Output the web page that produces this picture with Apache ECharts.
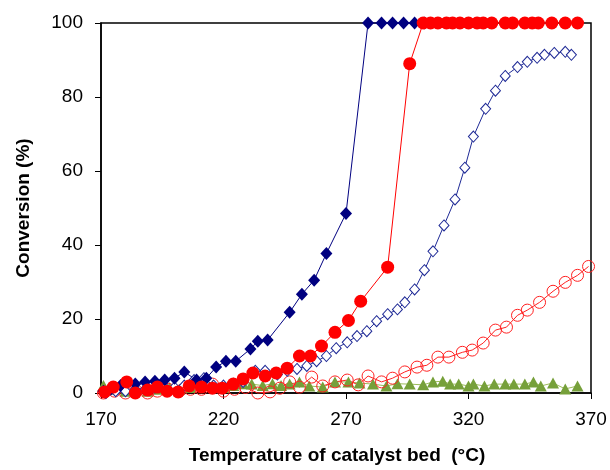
<!DOCTYPE html>
<html>
<head>
<meta charset="utf-8">
<script src="https://cdn.jsdelivr.net/npm/echarts@6/dist/echarts.min.js"></script>
<style>
html, body { margin: 0; padding: 0; background: #fff; }
#main { width: 610px; height: 470px; }
</style>
</head>
<body>
<div id="main"></div>
<script>
// x ticks / y ticks
var xTicks = [170, 220, 270, 320, 370];
var yTicks = [0, 20, 40, 60, 80, 100];

// filled navy diamonds
var tempsA = [171, 174, 178, 184, 188, 192, 196, 200, 204, 209, 213, 217, 221, 225, 231, 234, 238, 247, 252, 257, 262, 270, 279, 284.5, 289, 293.5, 298, 302];
var valsA = [0.5, 1, 2, 2.4, 3, 3.2, 3.5, 4, 5.7, 3.5, 4, 7, 8.6, 8.6, 11.9, 14, 14.3, 21.8, 26.7, 30.5, 37.7, 48.5, 100, 100, 100, 100, 100, 100];

// filled red circles
var tempsB = [171.5, 175, 180.5, 184, 189, 193, 197, 201.5, 206, 211, 215.5, 219.5, 224, 228, 232, 237, 241.5, 246, 251, 255.5, 260, 265.5, 271, 276, 287, 296,
  301.5, 304.5, 307.5, 311, 313.5, 316.5, 320, 323.5, 326, 329.5, 335, 338, 343, 346, 348.5, 354, 359.5, 364.5];
var valsB = [0.3, 1.6, 3, 0, 0.8, 1.6, 0.5, 0.3, 1.9, 1.6, 1.3, 1.3, 2.4, 3.8, 5.4, 4.6, 5.4, 6.7, 10, 10, 12.7, 16.4, 19.6, 24.8, 34, 89,
  100, 100, 100, 100, 100, 100, 100, 100, 100, 100, 100, 100, 100, 100, 100, 100, 100, 100];

// open navy diamonds
var tempsC = [172, 176, 180, 184, 188, 192, 196, 200, 204, 208, 212, 216, 220, 224, 228, 233, 237, 242, 246, 250, 254, 258, 262, 266, 270.5, 274.5, 278.5, 282.5, 287, 291,
  294, 298, 302, 305.5, 310, 314.5, 318.5, 322, 327, 331, 335, 340, 344, 348, 351, 355, 359.5, 362];
var valsC = [0, 0.5, 0.5, 1, 1, 1.5, 1.5, 1.5, 2, 3.5, 4, 2, 2, 2.5, 3, 6, 6, 5, 6, 6.5, 7.3, 8.6, 10, 12.1, 13.7, 15.4, 16.7, 19.4, 21.3, 22.6,
  24.5, 28, 33.2, 38.3, 45.3, 52.3, 60.9, 69.3, 76.8, 81.7, 85.7, 88.1, 89.5, 90.6, 91.4, 91.9, 92.2, 91.4];

// open red circles
var tempsD = [171, 175.5, 180, 184.5, 189, 193, 197.5, 202, 206.5, 211, 215.5, 220, 224.5, 229, 234, 239, 243, 247, 251, 256, 260.5, 265.5, 270.5, 275, 279, 284.5, 289, 294, 299, 303,
  307.5, 312, 317.5, 321.5, 326, 331, 335.5, 340, 344, 349, 354.5, 359.5, 364.5, 369];
var valsD = [0, 0.5, 0, 0.5, 0, 0.5, 1, 0.5, 1, 1, 2.4, 0.5, 1, 1.5, 0, 0.3, 1.3, 3, 1.6, 4.3, 1.9, 3, 3.5, 2.2, 4.6, 3, 4, 5.7, 7, 7.5,
  9.7, 9.7, 11, 11.6, 13.5, 17, 17.8, 21, 22.4, 24.5, 27.5, 29.9, 31.8, 34.2];

// green triangles
var tempsE = [171, 175.5, 180, 184.5, 189, 193.5, 198, 202, 206.5, 211, 215.5, 220, 224, 228, 231.5, 236, 240, 243.5, 247, 251, 255, 260.5, 265.5, 271, 275.5, 281, 286.5, 291, 296, 301.5,
  305.5, 309.5, 312.5, 316, 320, 322, 326.5, 330.5, 335, 338.5, 343, 346.5, 349.5, 354.5, 359.5, 364.5];
var valsE = [2, 1, 0.5, 1, 0.5, 1, 1.5, 1, 1.5, 2, 2, 1.5, 2, 2.5, 2.4, 2, 2.5, 2, 2.4, 3, 1.9, 1.6, 3, 3, 2.7, 2.4, 1.9, 2.5, 2.4, 2.2,
  3, 3.2, 2.4, 2.4, 1.9, 2.4, 1.9, 2.4, 2.4, 2.4, 2.4, 3, 1.9, 2.7, 1.1, 1.9];

function pairs(t, v) {
    var out = [];
    for (var i = 0; i < t.length; i++) out.push([t[i], v[i]]);
    return out;
}

var myChart = echarts.init(document.getElementById('main'));
var font = '"Liberation Sans", Arial, sans-serif';

var option = {
    animation: false,
    grid: {
        left: 101,
        right: 19,
        top: 23,
        bottom: 76,
        show: true,
        borderColor: '#000',
        borderWidth: 1.5
    },
    xAxis: {
        type: 'value',
        min: xTicks[0],
        max: xTicks[xTicks.length - 1],
        interval: 50,
        name: 'Temperature of catalyst bed  (°C)',
        nameLocation: 'middle',
        nameGap: 53,
        nameTextStyle: { fontFamily: font, fontSize: 19, fontWeight: 'bold', color: '#000', padding: [0, 18, 0, 0] },
        axisLine: { lineStyle: { color: '#000', width: 1.5 } },
        axisTick: { show: true, length: 6, lineStyle: { color: '#000' } },
        axisLabel: { fontFamily: font, fontSize: 19, color: '#000', margin: 17 },
        splitLine: { show: false }
    },
    yAxis: {
        type: 'value',
        min: yTicks[0],
        max: yTicks[yTicks.length - 1],
        interval: 20,
        name: 'Conversion (%)',
        nameLocation: 'middle',
        nameGap: 68,
        nameTextStyle: { fontFamily: font, fontSize: 19, fontWeight: 'bold', color: '#000' },
        axisLine: { show: true, lineStyle: { color: '#000', width: 1.5 } },
        axisTick: { show: true, length: 6, lineStyle: { color: '#000' } },
        axisLabel: { fontFamily: font, fontSize: 19, color: '#000', margin: 18 },
        splitLine: { show: false }
    },
    series: [
        {
            type: 'line', clip: false,
            data: pairs(tempsE, valsE),
            symbol: 'triangle', symbolSize: [12, 11],
            lineStyle: { color: '#9BBB59', width: 1 },
            itemStyle: { color: '#76A03A' }
        },
        {
            type: 'line', clip: false,
            data: pairs(tempsD, valsD),
            symbol: 'circle', symbolSize: 12,
            lineStyle: { color: '#FF2020', width: 1 },
            itemStyle: { color: 'rgba(255,255,255,0)', borderColor: '#FF2020', borderWidth: 1 }
        },
        {
            type: 'line', clip: false,
            data: pairs(tempsC, valsC),
            symbol: 'diamond', symbolSize: [10, 11],
            lineStyle: { color: '#1F2A96', width: 1 },
            itemStyle: { color: '#fff', borderColor: '#1F2A96', borderWidth: 1 }
        },
        {
            type: 'line', clip: false,
            data: pairs(tempsA, valsA),
            symbol: 'diamond', symbolSize: [12, 13],
            lineStyle: { color: '#000080', width: 1 },
            itemStyle: { color: '#000080' }
        },
        {
            type: 'line', clip: false,
            data: pairs(tempsB, valsB),
            symbol: 'circle', symbolSize: 13,
            lineStyle: { color: '#FF0000', width: 1 },
            itemStyle: { color: '#FF0000' }
        }
    ]
};

myChart.setOption(option);
</script>
</body>
</html>
